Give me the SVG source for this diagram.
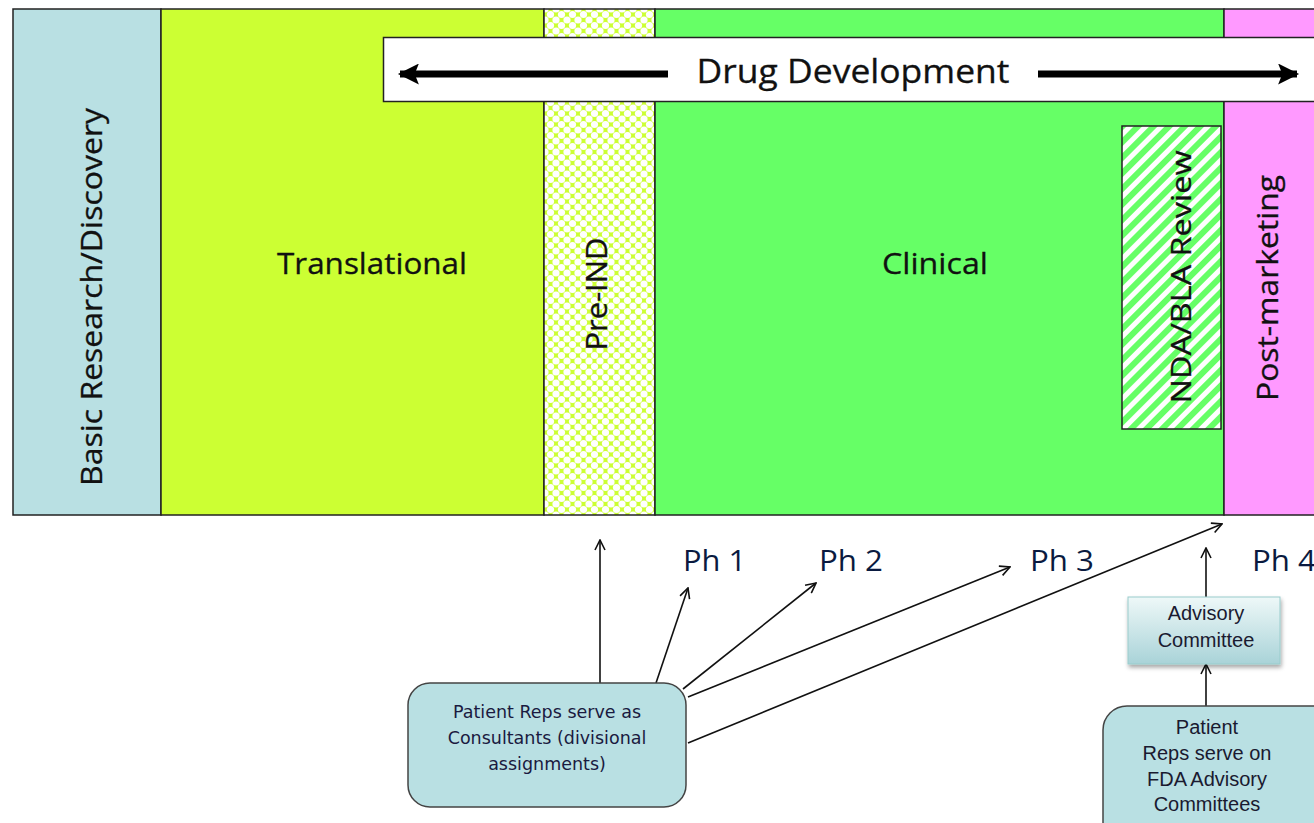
<svg xmlns="http://www.w3.org/2000/svg" width="1314" height="823" viewBox="0 0 1314 823">
<defs>
<style>
.col{stroke:#222;stroke-width:1.5}
.lbl{font-family:"Open Sans","Liberation Sans",sans-serif;fill:#111;stroke:#111;stroke-width:0.3}
.ph{font-family:"Open Sans","Liberation Sans",sans-serif;font-size:29px;fill:#0a1a40}
.small{font-family:"DejaVu Sans","Liberation Sans",sans-serif;font-size:17.5px;fill:#1a1a40;text-anchor:middle}
.ar{font-family:"Liberation Sans",Arial,sans-serif;font-size:20px;fill:#1a1a30;text-anchor:middle}
.con{stroke:#111;stroke-width:1.6;fill:none;marker-end:url(#open)}
</style>
<marker id="open" viewBox="0 0 12 12" refX="11" refY="6" markerWidth="12" markerHeight="12" markerUnits="userSpaceOnUse" orient="auto">
<polyline points="1,1 11,6 1,11" fill="none" stroke="#111" stroke-width="1.6"/>
</marker>
<marker id="solid" viewBox="0 0 10 10" refX="9" refY="5" markerWidth="3.5" markerHeight="3" orient="auto">
<path d="M0,0 L10,5 L0,10 L2,5 Z" fill="#000"/>
</marker>
<pattern id="dots" width="11" height="11" patternUnits="userSpaceOnUse" x="545" y="9">
<rect width="11" height="11" fill="#ccff33"/>
<circle cx="0" cy="0" r="3.6" fill="#fff"/>
<circle cx="11" cy="0" r="3.6" fill="#fff"/>
<circle cx="0" cy="11" r="3.6" fill="#fff"/>
<circle cx="11" cy="11" r="3.6" fill="#fff"/>
<circle cx="5.5" cy="5.5" r="3.6" fill="#fff"/>
</pattern>
<pattern id="hatch" width="11" height="11" patternUnits="userSpaceOnUse" patternTransform="rotate(45)">
<rect width="11" height="11" fill="#fff"/>
<rect width="6" height="11" fill="#66ff66"/>
</pattern>
<linearGradient id="adv" x1="0" y1="0" x2="0" y2="1">
<stop offset="0" stop-color="#eef8f8"/>
<stop offset="1" stop-color="#a9d3d8"/>
</linearGradient>
<filter id="sh" x="-10%" y="-10%" width="130%" height="140%">
<feDropShadow dx="1" dy="3" stdDeviation="2" flood-color="#000" flood-opacity="0.35"/>
</filter>
</defs>
<rect width="1314" height="823" fill="#fff"/>

<g id="basic">
<rect class="col" x="13" y="9" width="148" height="506" fill="#b9e0e3"/>
<text class="lbl" font-size="29" transform="translate(102,297) rotate(-90)" text-anchor="middle" textLength="378" lengthAdjust="spacingAndGlyphs">Basic Research/Discovery</text>
</g>
<g id="translational">
<rect class="col" x="161" y="9" width="383" height="506" fill="#ccff33"/>
<text class="lbl" font-size="30" x="372" y="274" text-anchor="middle" textLength="190" lengthAdjust="spacingAndGlyphs">Translational</text>
</g>
<g id="preind">
<rect class="col" x="544" y="9" width="111" height="506" fill="url(#dots)"/>
<text class="lbl" font-size="29" transform="translate(607,294) rotate(-90)" text-anchor="middle" textLength="113" lengthAdjust="spacingAndGlyphs">Pre-IND</text>
</g>
<g id="clinical">
<rect class="col" x="655" y="9" width="569" height="506" fill="#66ff66"/>
<text class="lbl" font-size="30" x="935" y="274" text-anchor="middle" textLength="106" lengthAdjust="spacingAndGlyphs">Clinical</text>
</g>
<g id="nda">
<rect class="col" x="1122" y="126" width="99" height="303" fill="url(#hatch)"/>
<text class="lbl" font-size="28" transform="translate(1191,277) rotate(-90)" text-anchor="middle" textLength="253" lengthAdjust="spacingAndGlyphs">NDA/BLA Review</text>
</g>
<g id="postmarketing">
<rect class="col" x="1224" y="9" width="95" height="506" fill="#ff99ff"/>
<text class="lbl" font-size="29" transform="translate(1278,288) rotate(-90)" text-anchor="middle" textLength="226" lengthAdjust="spacingAndGlyphs">Post-marketing</text>
</g>
<g id="drugdev">
<rect x="383.5" y="37.5" width="940" height="64" fill="#fff" stroke="#222" stroke-width="1.5"/>
<text class="lbl" font-size="32" x="853" y="83" text-anchor="middle" textLength="313" lengthAdjust="spacingAndGlyphs">Drug Development</text>
<line x1="668" y1="74" x2="400" y2="74" stroke="#000" stroke-width="7" marker-end="url(#solid)"/>
<line x1="1038" y1="74" x2="1297" y2="74" stroke="#000" stroke-width="7" marker-end="url(#solid)"/>
</g>

<g id="connectors">
<line class="con" x1="600" y1="683" x2="600" y2="540"/>
<line class="con" x1="656" y1="683" x2="688" y2="588"/>
<line class="con" x1="683" y1="689" x2="816" y2="583"/>
<line class="con" x1="688" y1="697" x2="1010" y2="567"/>
<line class="con" x1="688" y1="743" x2="1222" y2="524"/>
<line class="con" x1="1206" y1="597" x2="1206" y2="548"/>
<line class="con" x1="1206" y1="706" x2="1206" y2="664"/>
</g>

<g id="ph-labels">
<text class="ph" x="683" y="571" textLength="63" lengthAdjust="spacingAndGlyphs">Ph 1</text>
<text class="ph" x="819" y="571" textLength="64" lengthAdjust="spacingAndGlyphs">Ph 2</text>
<text class="ph" x="1030" y="571" textLength="64" lengthAdjust="spacingAndGlyphs">Ph 3</text>
<text class="ph" x="1252" y="571" textLength="64" lengthAdjust="spacingAndGlyphs">Ph 4</text>
</g>

<g id="consultants">
<rect x="408" y="683" width="278" height="124" rx="22" fill="#b9e0e3" stroke="#444" stroke-width="1.5"/>
<text class="small" x="547" y="718">Patient Reps serve as</text>
<text class="small" x="547" y="744">Consultants (divisional</text>
<text class="small" x="547" y="770">assignments)</text>
</g>

<g id="advisory">
<rect x="1128" y="597" width="152" height="67" fill="url(#adv)" stroke="#9cc" stroke-width="1" filter="url(#sh)"/>
<text class="ar" x="1206" y="620">Advisory</text>
<text class="ar" x="1206" y="647">Committee</text>
</g>

<g id="patient-reps-fda">
<rect x="1103" y="706" width="240" height="140" rx="24" fill="#b9e0e3" stroke="#444" stroke-width="1.5"/>
<text class="ar" x="1207" y="734">Patient</text>
<text class="ar" x="1207" y="760">Reps serve on</text>
<text class="ar" x="1207" y="786">FDA Advisory</text>
<text class="ar" x="1207" y="811">Committees</text>
</g>
</svg>
